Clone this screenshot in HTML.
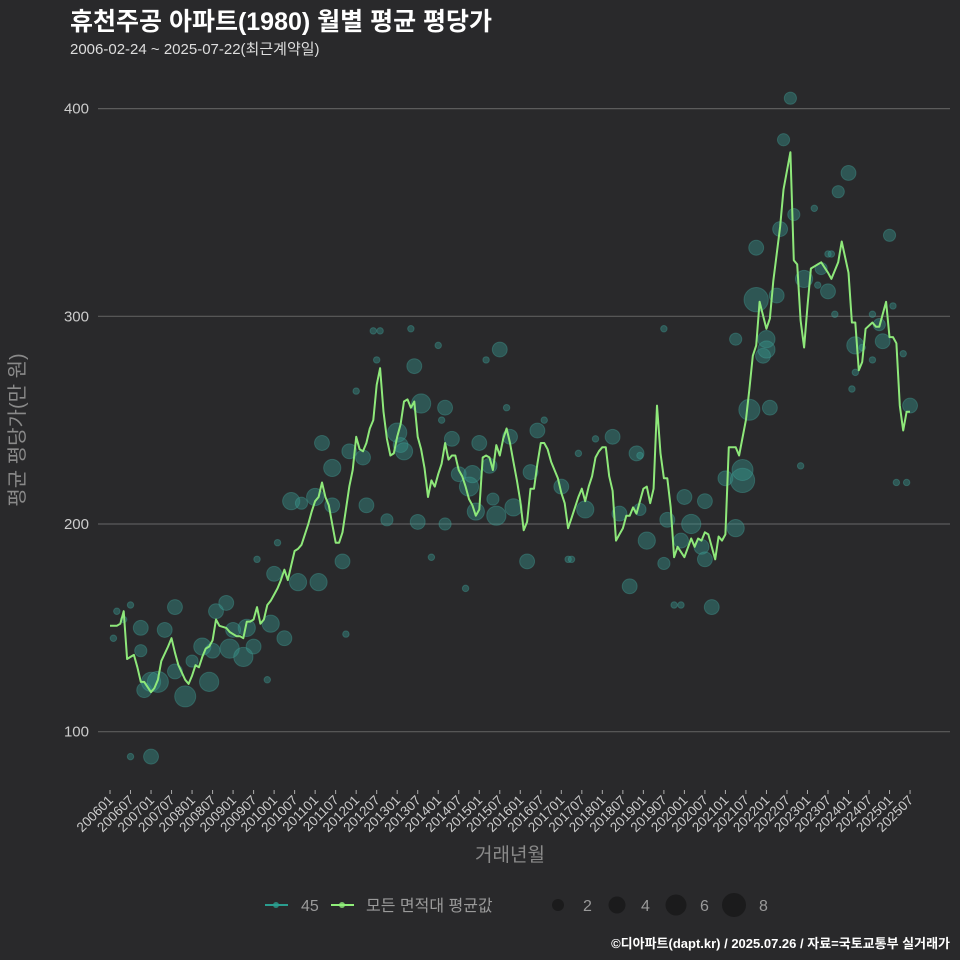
<!DOCTYPE html>
<html><head><meta charset="utf-8"><style>
html,body{margin:0;padding:0;background:#29292b;}
svg{display:block;font-family:"Liberation Sans","Noto Sans CJK KR",sans-serif;}
</style></head><body>
<svg id="chart" width="960" height="960" viewBox="0 0 960 960" xmlns="http://www.w3.org/2000/svg">
<rect width="960" height="960" fill="#29292b"/>
<text x="70" y="30" fill="#ffffff" font-size="25" font-weight="bold">휴천주공 아파트(1980) 월별 평균 평당가</text>
<text x="70" y="54" fill="#dddddd" font-size="15">2006-02-24 ~ 2025-07-22(최근계약일)</text>
<g id="grid"></g>
<g id="bubbles"></g>
<g id="line"></g>
<g id="xaxis"></g>
<text x="510" y="861" fill="#8a8a8a" font-size="19" text-anchor="middle">거래년월</text>
<text transform="translate(24,430) rotate(-90)" fill="#8a8a8a" font-size="20" text-anchor="middle">평균 평당가(만 원)</text>
<g>
  <g>
    <line x1="265" y1="905" x2="288" y2="905" stroke="#2a9d8f" stroke-width="2"/>
    <circle cx="276" cy="905" r="3" fill="#2a9d8f" opacity="0.8"/>
    <text x="301" y="911" fill="#9a9a9a" font-size="16">45</text>
  </g>
  <g>
    <line x1="331" y1="905" x2="354" y2="905" stroke="#90ee7a" stroke-width="2"/>
    <circle cx="342" cy="905" r="3" fill="#90ee7a" opacity="0.8"/>
    <text x="366" y="911" fill="#9a9a9a" font-size="16">모든 면적대 평균값</text>
  </g>
  <g>
    <circle cx="558" cy="905" r="6" fill="#1b1b1c"/><text x="583" y="911" fill="#9a9a9a" font-size="16">2</text>
    <circle cx="617" cy="905" r="8.5" fill="#1b1b1c"/><text x="641" y="911" fill="#9a9a9a" font-size="16">4</text>
    <circle cx="676" cy="905" r="10.5" fill="#1b1b1c"/><text x="700" y="911" fill="#9a9a9a" font-size="16">6</text>
    <circle cx="734" cy="905" r="12" fill="#1b1b1c"/><text x="759" y="911" fill="#9a9a9a" font-size="16">8</text>
  </g>
</g>
<text x="950" y="948" fill="#ffffff" font-size="13" font-weight="bold" text-anchor="end">©디아파트(dapt.kr) / 2025.07.26 / 자료=국토교통부 실거래가</text>
</svg>
<script>
const yTicks = [100, 200, 300, 400];
const lineMonths = [0,2,3,4,5,6,7,8,9,10,12,13,14,15,17,18,19,20,22,23,24,25,26,27,28,29,30,31,32,34,35,37,38,39,40,41,42,43,44,45,46,47,48,49,50,51,52,53,54,55,56,57,58,59,60,61,62,63,64,65,66,67,68,69,70,71,72,73,74,75,76,77,78,79,80,81,82,83,84,85,86,87,88,89,90,91,92,93,94,95,96,97,98,99,100,101,102,103,104,105,106,107,108,109,110,111,112,113,114,115,116,117,118,119,120,121,122,123,124,125,126,127,128,129,130,131,132,133,134,135,136,137,138,139,140,141,142,143,144,145,146,147,148,149,150,151,152,153,154,156,157,158,159,160,161,162,163,164,165,166,168,170,171,172,173,174,175,177,178,179,180,181,183,184,186,187,188,189,190,192,193,194,195,196,197,199,200,201,202,203,204,205,208,210,211,213,214,216,217,218,219,220,221,223,224,225,227,228,229,230,231,232,233,234];
const lineValues = [151,151,152,158,135,136,137,131,124,124,119,121,125,134,141,145,138,132,125,123,127,132,131,136,140,141,144,154,151,150,148,146,146,145,153,153,154,160,152,154,161,163,166,169,173,178,173,180,187,188,190,195,200,206,211,213,220,213,209,200,191,191,196,207,218,226,242,236,235,239,246,250,267,275,254,241,233,234,242,248,259,260,256,259,242,236,227,213,221,218,224,229,239,231,233,233,226,223,218,212,209,204,207,232,233,232,226,238,233,241,246,239,230,221,211,197,201,217,217,229,239,239,236,230,226,222,215,210,198,203,208,213,217,211,218,223,232,235,237,237,223,216,192,195,198,204,204,208,205,217,218,210,217,257,234,222,222,208,184,189,184,193,189,193,192,196,195,183,194,192,195,237,237,233,250,265,281,286,307,294,299,317,330,343,361,379,327,325,298,285,305,323,326,321,318,326,336,321,297,297,274,278,294,297,295,295,307,290,290,287,257,245,254,254];
const bubbleMonths = [1,2,4,6,9,6,12,9,10,12,14,16,19,22,19,24,27,29,30,31,34,35,39,40,36,42,43,46,47,48,49,51,53,55,56,61,60,62,65,65,68,69,70,72,74,75,77,79,78,81,84,85,86,88,89,90,91,94,96,97,98,98,100,102,104,105,106,107,108,110,111,112,113,114,116,117,118,122,123,125,127,132,134,135,137,139,142,147,149,152,154,155,155,157,162,162,163,165,167,168,167,170,173,174,174,176,180,183,183,185,185,187,189,189,191,192,192,193,195,196,197,199,200,202,203,206,207,208,210,210,211,212,213,216,217,218,218,220,223,223,225,226,228,229,230,232,233,234];
const bubbleValues = [145,158,154,161,139,88,88,150,120,124,124,149,160,117,129,134,141,124,139,158,162,140,136,150,149,141,183,125,152,176,191,145,211,172,210,172,213,239,209,227,182,147,235,264,232,209,293,293,279,202,244,238,235,294,276,201,258,184,286,250,256,200,241,224,169,218,224,206,239,279,228,212,204,284,256,242,208,182,225,245,250,218,183,183,234,207,241,242,205,170,234,233,207,192,294,181,202,161,161,213,192,200,189,183,211,160,222,198,289,221,226,255,333,308,281,289,284,256,310,342,385,405,349,228,318,352,315,323,330,312,330,301,360,369,265,273,286,285,301,279,296,288,339,305,220,282,220,257];
const bubbleCounts = [1,1,1,1,2,1,3,3,3,5,6,3,3,6,3,2,4,5,3,3,3,5,5,4,3,3,1,1,4,3,1,3,4,4,2,4,4,3,3,4,3,1,3,1,3,3,1,1,1,2,5,3,4,1,3,3,5,1,1,1,3,2,3,3,1,5,4,4,3,1,3,2,5,3,1,3,4,3,3,3,1,3,1,1,1,4,1,3,3,3,3,1,2,4,1,2,3,1,1,3,3,5,3,3,3,3,3,4,2,8,6,6,3,8,3,4,4,3,3,3,2,2,2,1,4,1,1,2,1,3,1,1,2,3,1,1,4,1,1,1,2,3,2,1,1,1,1,3];
const xTickLabels = [];
for (let y = 2006; y <= 2025; y++) { xTickLabels.push(y + '01'); xTickLabels.push(y + '07'); }

const NS = 'http://www.w3.org/2000/svg';
const X0 = 110, XSTEP = 3.419;
const xScale = m => X0 + m * XSTEP;
const yScale = v => 524 - (v - 200) * 2.077;
function mk(tag, attrs, parent) {
  const e = document.createElementNS(NS, tag);
  for (const k in attrs) e.setAttribute(k, attrs[k]);
  parent.appendChild(e);
  return e;
}
const grid = document.getElementById('grid');
yTicks.forEach(t => {
  const l = mk('line', {x1: 98, x2: 950, y1: yScale(t), y2: yScale(t), stroke: '#5c5c5c', 'stroke-width': 1.2}, grid);
  
  
  const tx = mk('text', {x: 89, y: yScale(t) + 5, fill: '#cccccc', 'font-size': 15, 'text-anchor': 'end'}, grid);
  
  
  tx.textContent = t;
});
const bg = document.getElementById('bubbles');
bubbleMonths.forEach((m, i) => {
  const c = mk('circle', {cx: xScale(m), cy: yScale(bubbleValues[i]), r: 4.3 * Math.sqrt(bubbleCounts[i]) * (bubbleCounts[i] === 1 ? 0.75 : 1), fill: 'rgba(56,150,140,0.42)', stroke: 'rgba(70,170,160,0.35)', 'stroke-width': 1}, bg);
  
  
});
const lg = document.getElementById('line');
const pts = lineMonths.map((m, i) => xScale(m).toFixed(1) + ',' + yScale(lineValues[i]).toFixed(1)).join(' ');
const pl = mk('polyline', {points: pts, fill: 'none', stroke: '#8ee87a', 'stroke-width': 2, 'stroke-linejoin': 'round'}, lg);


const xa = document.getElementById('xaxis');
xTickLabels.forEach((lab, i) => {
  const x = xScale(i * 6);
  const tk = mk('line', {x1: x, x2: x, y1: 790, y2: 794, stroke: '#aaaaaa', 'stroke-width': 1}, xa);
  
  
  const t = mk('text', {transform: 'translate(' + (x + 4) + ',801) rotate(-45)', fill: '#cccccc', 'font-size': 13.5, 'text-anchor': 'end'}, xa);
  
  
  t.textContent = lab;
});
</script>
</body></html>
